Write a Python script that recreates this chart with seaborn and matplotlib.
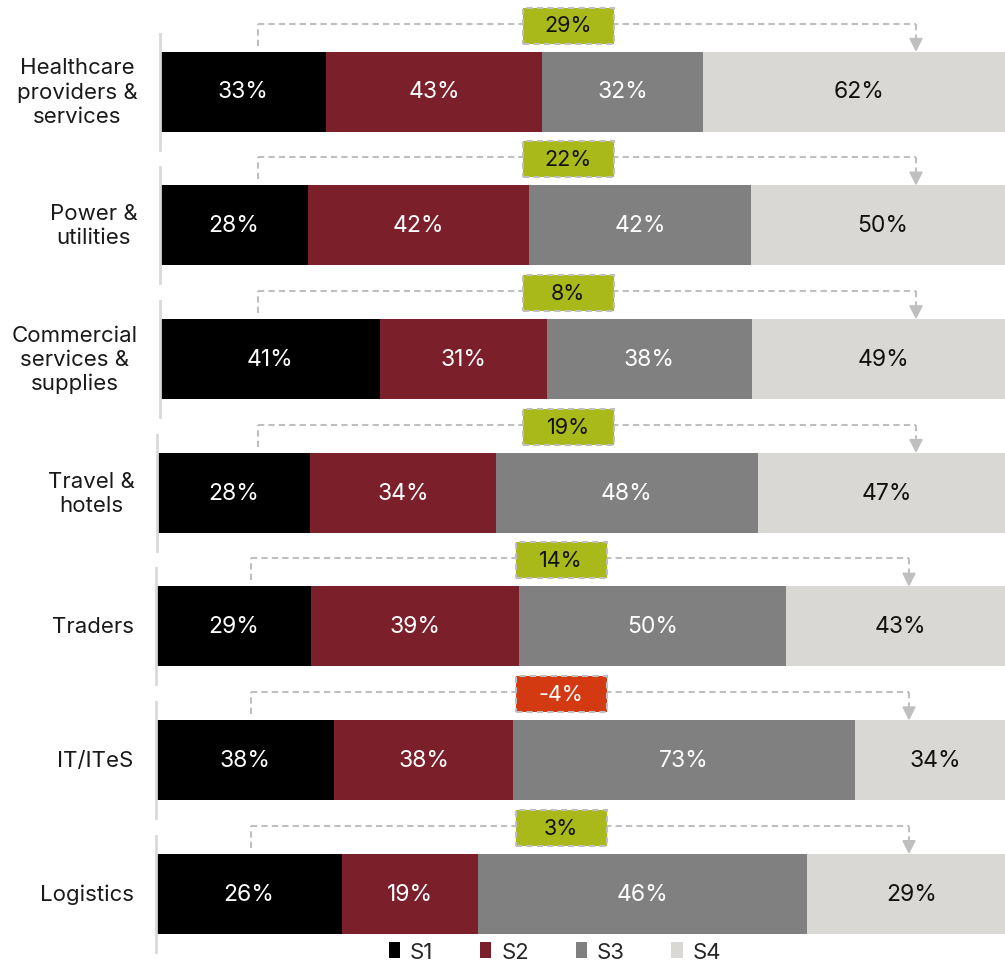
import numpy as np
import pandas as pd
import matplotlib.pyplot as plt
from matplotlib.patches import Rectangle, Polygon, Patch
from matplotlib.lines import Line2D
import seaborn as sns

# Data
categories = ["Healthcare\nproviders &\nservices", "Power &\nutilities",
              "Commercial\nservices &\nsupplies", "Travel &\nhotels",
              "Traders", "IT/ITeS", "Logistics"]
series = ["S1", "S2", "S3", "S4"]
s1 = [33, 28, 41, 28, 29, 38, 26]
s2 = [43, 42, 31, 34, 39, 38, 19]
s3 = [32, 42, 38, 48, 50, 73, 46]
s4 = [62, 50, 49, 47, 43, 34, 29]

colors = ["#000000", "#7b1f2b", "#808080", "#d9d8d4"]
text_colors = ["white", "white", "white", "#111111"]
pos_color, neg_color = "#a9b91a", "#d43a12"
grey = "#bfbfbf"

df = pd.DataFrame({"category": categories, "S1": s1, "S2": s2, "S3": s3, "S4": s4})
df["diff"] = df["S4"] - df["S1"]

W, H = 1005, 962
sns.set_style("white")
plt.rcParams["font.family"] = ["Inter", "DejaVu Sans"]

fig = plt.figure(figsize=(W / 100, H / 100), dpi=100)


def fp(px, py):
    return px / W, 1 - py / H


# panel layout (pixels)
centers = 92.5 + np.arange(len(df)) * 133.7
lefts = [160, 160, 160, 157, 156, 156, 156]
note_shift = [0, 0, 0, 0, -7, -7, -7]
right = 1015  # bars run slightly past the canvas edge

for i, row in df.iterrows():
    cy, lx = centers[i], lefts[i]
    ax = fig.add_axes([lx / W, 1 - (cy + 58) / H, (right - lx) / W, 116 / H])
    vals = row[series].to_numpy(float)
    total = vals.sum()
    cum = np.cumsum(vals) / total
    # stacked bars: draw cumulative shares from the back
    for j in reversed(range(len(series))):
        sns.barplot(x=[cum[j]], y=[row["category"]], color=colors[j], saturation=1,
                    width=0.8, orient="h", linewidth=0, ax=ax)
    for j in range(len(series)):
        xc = cum[j] - vals[j] / total / 2
        ax.text(xc, 0, f"{int(vals[j])}%", ha="center", va="center",
                color=text_colors[j], fontsize=16.5)
    ax.set_xlim(0, 1)
    ax.set_ylim(0.58, -0.58)
    ax.set_xticks([])
    ax.set_yticks([])
    ax.set(xlabel="", ylabel="")
    for s in ["top", "right", "bottom"]:
        ax.spines[s].set_visible(False)
    ax.spines["left"].set_color("#d9d9d9")
    ax.spines["left"].set_linewidth(2)
    ax.text(-0.026, 0, row["category"], transform=ax.get_yaxis_transform(),
            ha="right", va="center", multialignment="center",
            fontsize=16, linespacing=1.25, color="#1a1a1a")

    # difference bracket
    sh = note_shift[i]
    bartop = cy - 40
    ly = bartop - 28
    xl, xr = 258 + sh, 916 + sh
    dash = dict(transform=fig.transFigure, color=grey, lw=1.5, ls=(0, (3, 2)))
    fig.add_artist(Line2D(*zip(fp(xl, bartop - 6), fp(xl, ly)), **dash))
    fig.add_artist(Line2D(*zip(fp(xl, ly), fp(xr, ly)), **dash))
    fig.add_artist(Line2D(*zip(fp(xr, ly), fp(xr, bartop - 12)), **dash))
    fig.add_artist(Polygon([fp(xr - 6, bartop - 13), fp(xr + 6, bartop - 13),
                            fp(xr, bartop - 1)], closed=True,
                           transform=fig.transFigure, color=grey))
    d = row["diff"]
    bx, by, bw, bh = 568 + sh, bartop - 26, 91, 36
    fig.add_artist(Rectangle(fp(bx - bw / 2, by + bh / 2), bw / W, bh / H,
                             transform=fig.transFigure,
                             facecolor=pos_color if d >= 0 else neg_color,
                             edgecolor=grey, lw=1.5, ls=(0, (3, 2)), zorder=5))
    fig.text(*fp(bx, by), f"{d}%", ha="center", va="center", fontsize=15.5,
             color="#111111" if d >= 0 else "white", zorder=6)

handles = [Patch(facecolor=c, edgecolor="none") for c in colors]
fig.legend(handles, series, loc="center", bbox_to_anchor=(555 / W, 1 - 953 / H),
           ncol=4, frameon=False, fontsize=16, handlelength=0.5, handleheight=0.75,
           handletextpad=0.45, columnspacing=2.1)

fig.savefig("out.png", dpi=100)
